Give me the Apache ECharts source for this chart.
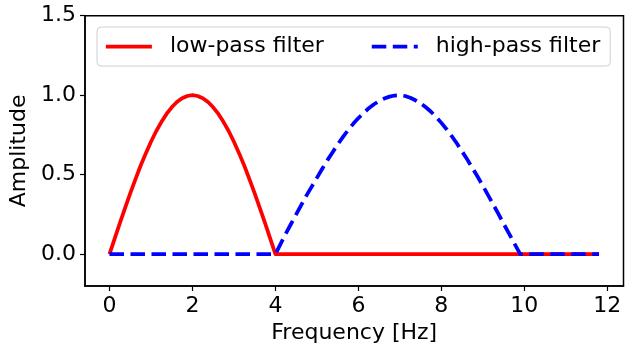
<!DOCTYPE html>
<html>
<head>
<meta charset="utf-8">
<script src="https://cdn.jsdelivr.net/npm/echarts@6/dist/echarts.min.js"></script>
<style>html,body{margin:0;padding:0;background:#fff}#c{width:626px;height:349px}</style>
</head>
<body>
<div id="c"></div>
<script>
// ---- data ----
const lowFreq = [0, 0.125, 0.25, 0.375, 0.5, 0.625, 0.75, 0.875, 1, 1.125, 1.25, 1.375, 1.5, 1.625, 1.75, 1.875, 2,
                 2.125, 2.25, 2.375, 2.5, 2.625, 2.75, 2.875, 3, 3.125, 3.25, 3.375, 3.5, 3.625, 3.75, 3.875, 4, 11.8];
const lowAmp  = [0, 0.098, 0.195, 0.290, 0.383, 0.471, 0.556, 0.634, 0.707, 0.773, 0.831, 0.882, 0.924, 0.957, 0.981, 0.995, 1,
                 0.995, 0.981, 0.957, 0.924, 0.882, 0.831, 0.773, 0.707, 0.634, 0.556, 0.471, 0.383, 0.290, 0.195, 0.098, 0, 0];
const highFreq = [0, 4, 4.125, 4.25, 4.375, 4.5, 4.625, 4.75, 4.875, 5, 5.125, 5.25, 5.375, 5.5, 5.625, 5.75, 5.875,
                  6, 6.125, 6.25, 6.375, 6.5, 6.625, 6.75, 6.875, 7, 7.125, 7.25, 7.375, 7.5, 7.625, 7.75, 7.875,
                  8, 8.125, 8.25, 8.375, 8.5, 8.625, 8.75, 8.875, 9, 9.125, 9.25, 9.375, 9.5, 9.625, 9.75, 9.9, 11.8];
const highAmp  = [0, 0, 0.065, 0.13, 0.19, 0.25, 0.31, 0.37, 0.425, 0.48, 0.536, 0.59, 0.64, 0.69, 0.736, 0.78, 0.82,
                  0.856, 0.888, 0.918, 0.943, 0.963, 0.979, 0.991, 0.998, 1.0, 0.995, 0.984, 0.968, 0.948, 0.924, 0.896, 0.863,
                  0.826, 0.786, 0.742, 0.696, 0.646, 0.595, 0.542, 0.487, 0.43, 0.372, 0.313, 0.253, 0.192, 0.132, 0.072, 0, 0];
const xTicks = [0, 2, 4, 6, 8, 10, 12];
const yTicks = [0, 0.5, 1.0, 1.5];
const seriesNames = ['low-pass filter', 'high-pass filter'];
const xLabel = 'Frequency [Hz]';
const yLabel = 'Amplitude';

const zip = (a, b) => a.map((v, i) => [v, b[i]]);
const FONT = 'DejaVu Sans';
const FS = 22;

const chart = echarts.init(document.getElementById('c'), null, {renderer: 'canvas'});
chart.setOption({
  backgroundColor: '#fff',
  animation: false,
  grid: {left: 85, right: 2.5, top: 15.7, bottom: 62.3, show: true, borderColor: '#000', borderWidth: 1.5, backgroundColor: 'transparent'},
  legend: {
    left: 97, top: 27,
    padding: [8.5, 10, 8.5, 7],
    backgroundColor: 'rgba(255,255,255,0.8)',
    borderColor: '#d0d0d0', borderWidth: 1, borderRadius: 4,
    itemWidth: 46, itemHeight: 14, itemGap: 46,
    itemStyle: {opacity: 0, color: 'rgba(0,0,0,0)', borderWidth: 0},
    lineStyle: {width: 3.75},
    textStyle: {fontFamily: FONT, fontSize: FS, color: '#000', padding: [0, 0, 0, 13]},
    data: seriesNames
  },
  xAxis: {
    type: 'value', min: -0.59, max: 12.39,
    name: xLabel, nameLocation: 'middle', nameGap: 36,
    nameTextStyle: {fontFamily: FONT, fontSize: FS, color: '#000'},
    axisLine: {show: true, onZero: false, lineStyle: {color: '#000', width: 1.5}},
    axisTick: {show: true, length: 5, lineStyle: {color: '#000', width: 1.2}, customValues: xTicks},
    axisLabel: {fontFamily: FONT, fontSize: FS, color: '#000', margin: 9, customValues: xTicks, formatter: v => String(v)},
    splitLine: {show: false}
  },
  yAxis: {
    type: 'value', min: -0.2, max: 1.5,
    name: yLabel, nameLocation: 'middle', nameGap: 52, nameRotate: 90,
    nameTextStyle: {fontFamily: FONT, fontSize: FS, color: '#000'},
    axisLine: {show: true, onZero: false, lineStyle: {color: '#000', width: 1.5}},
    axisTick: {show: true, length: 5, lineStyle: {color: '#000', width: 1.2}, customValues: yTicks},
    axisLabel: {fontFamily: FONT, fontSize: FS, color: '#000', margin: 9, customValues: yTicks, formatter: v => v.toFixed(1)},
    splitLine: {show: false}
  },
  series: [
    {name: seriesNames[0], type: 'line', data: zip(lowFreq, lowAmp), symbol: 'none', showSymbol: false,
     lineStyle: {color: '#ff0000', width: 3.75, cap: 'butt', join: 'round'}, itemStyle: {color: '#ff0000'}, z: 2},
    {name: seriesNames[1], type: 'line', data: zip(highFreq, highAmp), symbol: 'none', showSymbol: false,
     lineStyle: {color: '#0000ff', width: 3.75, type: [14.5, 6.5], cap: 'butt', join: 'round'}, itemStyle: {color: '#0000ff'}, z: 3}
  ]
});
</script>
</body>
</html>
